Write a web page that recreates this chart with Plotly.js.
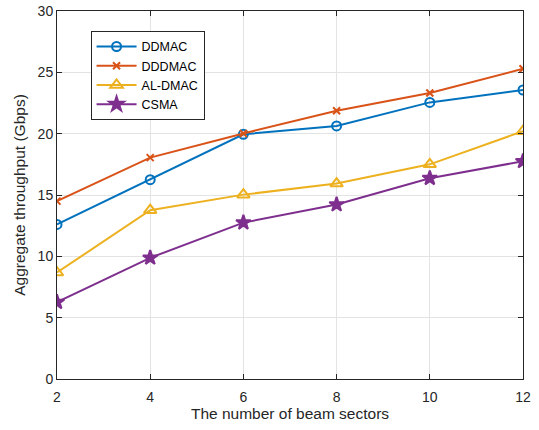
<!DOCTYPE html>
<html>
<head>
<meta charset="utf-8">
<script src="https://cdn.plot.ly/plotly-3.0.1.min.js"></script>
<style>html,body{margin:0;padding:0;background:#fff;}#chart{width:539px;height:430px;}</style>
</head>
<body>
<div id="chart"></div>
<script>
const sectors = [2, 4, 6, 8, 10, 12];
const ddmac  = [12.6, 16.25, 19.95, 20.63, 22.55, 23.56];
const dddmac = [14.5, 18.05, 20.02, 21.87, 23.31, 25.29];
const aldmac = [8.68, 13.76, 15.03, 15.93, 17.5, 20.2];
const csma   = [6.27, 9.88, 12.75, 14.22, 16.37, 17.75];
const seriesNames = ['DDMAC', 'DDDMAC', 'AL-DMAC', 'CSMA'];

const colors = ['#0072BD', '#D95319', '#EDB120', '#7E2F8E'];
const symbols = ['circle-open', 'x-thin-open', 'triangle-up-open', 'star'];
const sizes = [9, 7, 11, 11];
const data = [ddmac, dddmac, aldmac, csma].map((ys, i) => ({
  x: sectors, y: ys, name: seriesNames[i], type: 'scatter', mode: 'lines+markers',
  line: {color: colors[i], width: 2},
  marker: {symbol: symbols[i], size: sizes[i], color: colors[i], line: {color: colors[i], width: 2}}
}));

const axisCommon = {
  showline: true, linecolor: '#262626', linewidth: 1, mirror: 'ticks',
  ticks: 'inside', ticklen: 5, tickcolor: '#262626',
  showgrid: true, gridcolor: '#e3e3e3', gridwidth: 1, zeroline: false,
  tickfont: {family: 'Liberation Sans, Arial, sans-serif', size: 14, color: '#262626'}
};

const layout = {
  width: 539, height: 430,
  margin: {l: 57, r: 16, t: 11, b: 51},
  paper_bgcolor: '#fff', plot_bgcolor: '#fff',
  font: {family: 'Liberation Sans, Arial, sans-serif', color: '#262626'},
  xaxis: Object.assign({}, axisCommon, {
    range: [2, 12], tickvals: [2, 4, 6, 8, 10, 12], ticklabelstandoff: 5,
    title: {text: 'The number of beam sectors', font: {size: 15.5, color: '#262626'}, standoff: 4}
  }),
  yaxis: Object.assign({}, axisCommon, {
    range: [0, 30], tickvals: [0, 5, 10, 15, 20, 25, 30],
    title: {text: 'Aggregate throughput (Gbps)', font: {size: 15.5, color: '#262626'}, standoff: 8}
  }),
  legend: {
    x: 0.072, y: 0.946, xanchor: 'left', yanchor: 'top',
    bgcolor: '#fff', bordercolor: '#262626', borderwidth: 1,
    font: {size: 12.5, color: '#000'}, itemwidth: 40, tracegroupgap: 0
  },
  showlegend: true
};

Plotly.newPlot('chart', data, layout, {displayModeBar: false, staticPlot: true});
</script>
</body>
</html>
